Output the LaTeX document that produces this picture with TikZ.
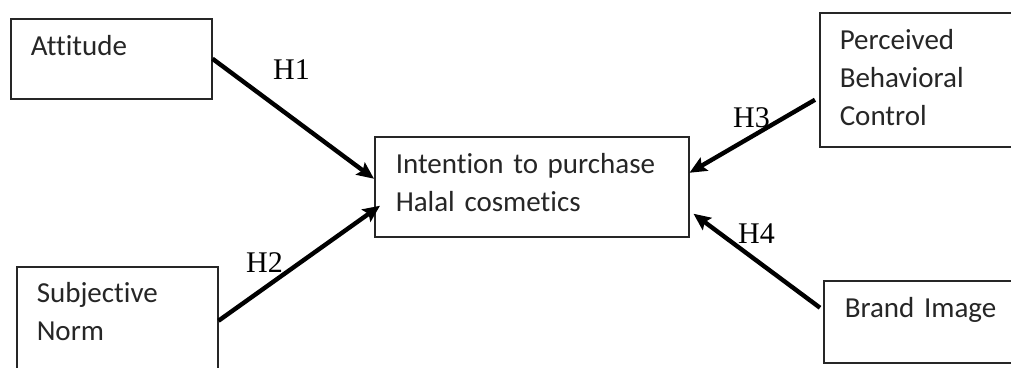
\documentclass[tikz,border=0pt]{standalone}
\usepackage{fontspec}
\setmainfont{Carlito}[Ligatures={NoCommon}]
\newfontfamily\hypfont{Liberation Serif}
\usetikzlibrary{arrows.meta}
\definecolor{Ink}{HTML}{262626}
\tikzset{
  var/.style={draw=Ink,line width=1.5pt,anchor=north west,align=left,text width=#1,inner ysep=0pt,inner xsep=20pt,text height=37pt,font=\fontsize{29}{38}\selectfont,text=Ink},
  link/.style={-{Stealth[length=17pt,width=15pt,inset=3pt]},draw=black,line width=4.4pt},
  hyp/.style={anchor=base west,inner sep=0pt,font=\hypfont\fontsize{30}{36}\selectfont,text=black}
}
\begin{document}
\begin{tikzpicture}[x=1pt,y=-1pt]
  \clip (0,0) rectangle (1011,367);
  \fill[white] (0,0) rectangle (1011,367);
  % constructs
  \node[var=161pt,text depth=43pt] (att) at (10,18) {Attitude};
  \node[var=161pt,text height=36pt,text depth=72pt] (subj) at (16,266) {Subjective\\Norm};
  \node[var=171pt,text depth=97pt] (pbc) at (819,12) {Perceived\\Behavioral\\Control};
  \node[var=167pt,text depth=45pt,inner xsep=21pt] (brand) at (823,280) {Brand Image};
  \node[var=272pt,text depth=63pt,inner xsep=21pt] (intent) at (374,136) {Intention to purchase\\Halal cosmetics};
  % hypotheses
  \draw[link] (att.east) -- ([yshift=8pt]intent.west);
  \draw[link] (subj.east) -- ([xshift=6pt,yshift=-19pt]intent.west);
  \draw[link] ([xshift=-4pt,yshift=-20pt]pbc.west) -- ([yshift=14pt]intent.east);
  \draw[link] ([xshift=-3pt,yshift=14pt]brand.west) -- ([xshift=4pt,yshift=-27pt]intent.east);
  \node[hyp] (h1) at (273,79) {H1};
  \node[hyp] (h2) at (246,272) {H2};
  \node[hyp] (h3) at (733,127) {H3};
  \node[hyp] (h4) at (738,243) {H4};
\end{tikzpicture}
\end{document}
